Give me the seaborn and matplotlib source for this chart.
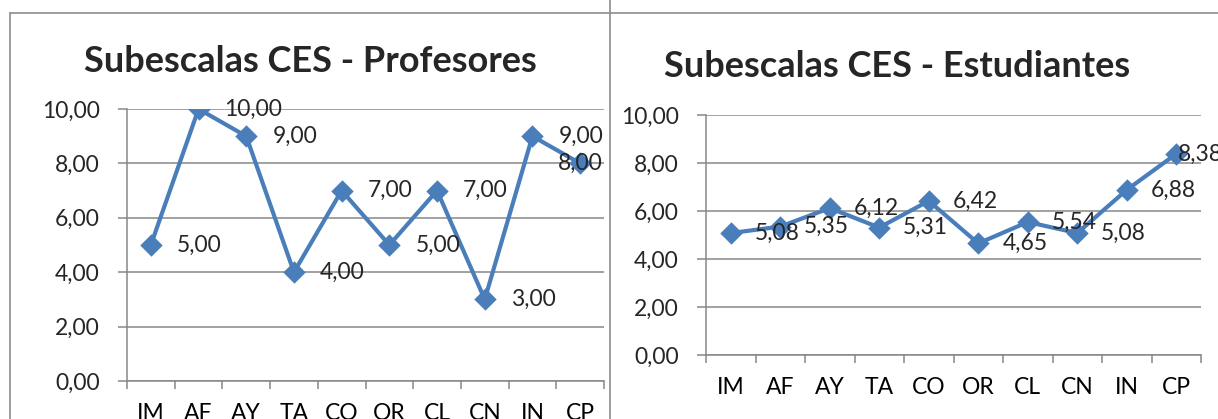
import numpy as np
import pandas as pd
import matplotlib
matplotlib.use("Agg")
import matplotlib.pyplot as plt
from matplotlib.lines import Line2D
from matplotlib.ticker import FixedLocator, FuncFormatter
import seaborn as sns

# ---- data ----
categories = ["IM", "AF", "AY", "TA", "CO", "OR", "CL", "CN", "IN", "CP"]
profesores = [5.00, 10.00, 9.00, 4.00, 7.00, 5.00, 7.00, 3.00, 9.00, 8.00]
estudiantes = [5.08, 5.35, 6.12, 5.31, 6.42, 4.65, 5.54, 5.08, 6.88, 8.38]
title_prof = "Subescalas CES - Profesores"
title_est = "Subescalas CES - Estudiantes"
y_ticks = [0, 2, 4, 6, 8, 10]

sns.set_theme(style="white")
plt.rcParams["font.family"] = ["Lato", "DejaVu Sans"]

W, H = 1218, 419
fig = plt.figure(figsize=(W / 100, H / 100), dpi=100)

LINE = "#4A7EBB"
GRID = "#878787"
FS = 16.5


def px_rect(x0, x1, ytop, ybot):
    return [x0 / W, 1 - ybot / H, (x1 - x0) / W, (ybot - ytop) / H]


def comma(v, _=None):
    return f"{v:.2f}".replace(".", ",")


def draw(ax, values, title, label_dx, last_mode):
    df = pd.DataFrame({"cat": categories, "val": values})
    sns.pointplot(data=df, x="cat", y="val", order=categories, color=LINE,
                  markers="D", markersize=9, linewidth=3.0, ax=ax,
                  errorbar=None)
    ax.set_xlim(-0.5, len(categories) - 0.5)
    ax.set_ylim(0, 10)
    ax.set_xlabel("")
    ax.set_ylabel("")
    ax.yaxis.set_major_locator(FixedLocator(y_ticks))
    ax.yaxis.set_major_formatter(FuncFormatter(comma))
    ax.grid(axis="y", color=GRID, linewidth=1.1)
    ax.set_axisbelow(True)
    for s in ["top", "right"]:
        ax.spines[s].set_visible(False)
    for s in ["left", "bottom"]:
        ax.spines[s].set_color(GRID)
        ax.spines[s].set_linewidth(1.1)
    ax.xaxis.set_minor_locator(FixedLocator(np.arange(-0.5, len(categories), 1.0)))
    ax.tick_params(axis="x", which="major", length=0, pad=16, labelsize=FS,
                   colors="black")
    ax.tick_params(axis="x", which="minor", length=6, width=1.1, color=GRID,
                   bottom=True, direction="out")
    ax.tick_params(axis="y", which="major", length=6.5, width=1.1, color=GRID,
                   pad=13, labelsize=FS, left=True, direction="out")
    for i, v in enumerate(values):
        if i == len(values) - 1 and last_mode == "inside":
            ax.annotate(comma(v), xy=(i, v), xytext=(0, 0),
                        textcoords="offset pixels", ha="center", va="center",
                        fontsize=FS, annotation_clip=False)
        elif i == len(values) - 1 and last_mode == "tight":
            ax.annotate(comma(v), xy=(i, v), xytext=(2, 0),
                        textcoords="offset pixels", ha="left", va="center",
                        fontsize=FS, annotation_clip=False)
        else:
            ax.annotate(comma(v), xy=(i, v), xytext=(label_dx, 0),
                        textcoords="offset pixels", ha="left", va="center",
                        fontsize=FS, annotation_clip=False)


ax1 = fig.add_axes(px_rect(127, 604, 109, 381))
draw(ax1, profesores, title_prof, 26, "inside")
ax2 = fig.add_axes(px_rect(706, 1201, 115, 355))
draw(ax2, estudiantes, title_est, 24, "tight")

fig.text(310 / W, 1 - 72 / H, title_prof, ha="center", va="baseline",
         fontsize=26, fontweight="bold")
fig.text(897 / W, 1 - 77 / H, title_est, ha="center", va="baseline",
         fontsize=26, fontweight="bold")

# chart-area borders
bc = "#8c8c8c"
fig.add_artist(Line2D([10 / W, 10 / W], [0, 1 - 13 / H], color=bc, lw=1.2,
                      transform=fig.transFigure))
fig.add_artist(Line2D([10 / W, 1], [1 - 13 / H, 1 - 13 / H], color=bc, lw=1.2,
                      transform=fig.transFigure))
fig.add_artist(Line2D([610 / W, 610 / W], [0, 1], color=bc, lw=1.2,
                      transform=fig.transFigure))

fig.savefig("out.png", dpi=100, facecolor="white")
